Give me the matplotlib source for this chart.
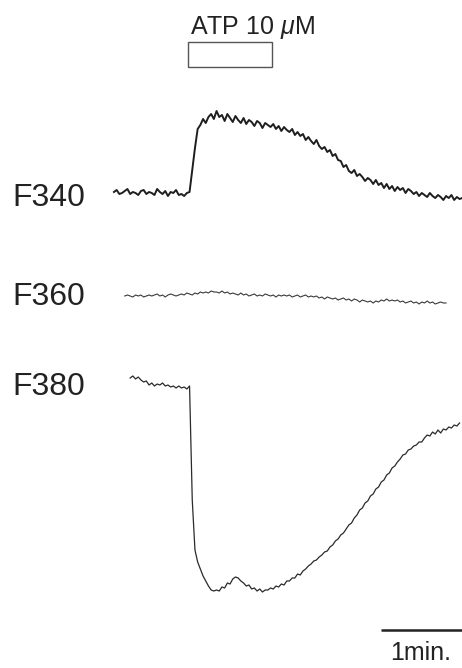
import numpy as np
import matplotlib
matplotlib.use("Agg")
import matplotlib.pyplot as plt
from matplotlib.patches import Rectangle

plt.rcParams['font.family'] = ['Liberation Sans', 'DejaVu Sans']
plt.rcParams['mathtext.fontset'] = 'custom'
plt.rcParams['mathtext.rm'] = 'Liberation Sans'
plt.rcParams['mathtext.it'] = 'Liberation Sans:italic'

# ---- data: fluorescence traces (a.u., relative to each trace's baseline), sampled every 2 s
dt = 2.0
f340_t0 = 0.0
f340 = [1, 3, -1, 0, 2, 4, -1, 1, 0, -2,
        2, 3, -1, 1, 0, -2, 4, 1, -1, 2,
        -3, 1, 0, 3, -2, -1, -3, 0, 1, 23,
        45, 64, 68, 74, 70, 76, 79, 74, 82, 76,
        78, 72, 79, 75, 71, 77, 73, 70, 75, 69,
        73, 71, 67, 72, 70, 65, 70, 68, 66, 69,
        64, 67, 62, 66, 63, 61, 64, 58, 61, 57,
        59, 53, 56, 52, 49, 53, 47, 44, 46, 41,
        43, 37, 39, 33, 32, 26, 28, 22, 20, 23,
        17, 19, 16, 12, 15, 13, 9, 13, 8, 10,
        5, 9, 4, 7, 2, 6, 3, 5, 0, 4,
        2, -1, 1, -3, 0, -2, -4, 0, -3, -5,
        -2, -4, -7, -3, -5, -2, -7, -4, -6, -5]

f360_t0 = 8.0
f360 = [0, 1, 0, -1, 1, 0, 1, -1, 0, 1,
        0, 1, 2, 0, 1, -1, 1, 2, 1, 0,
        1, 2, 1, 3, 2, 1, 3, 2, 4, 3,
        4, 3, 5, 4, 4, 3, 5, 3, 4, 2,
        3, 2, 1, 3, 1, 2, 0, 1, 2, 0,
        1, 0, 2, 1, 0, 1, -1, 1, 0, 1,
        0, 1, -1, 0, 1, -1, 0, 1, -1, 0,
        -1, 0, -2, -1, -3, -1, -2, -3, -2, -4,
        -3, -2, -4, -3, -5, -3, -4, -6, -4, -5,
        -6, -5, -7, -5, -6, -4, -5, -3, -5, -4,
        -5, -4, -6, -5, -7, -6, -5, -7, -6, -8,
        -6, -7, -5, -7, -6, -8, -7, -6, -7, -7]

f380_t0 = 12.0
f380 = [0, 2, -1, 1, -2, -4, -3, -7, -5, -8,
        -6, -7, -5, -8, -7, -9, -8, -10, -8, -10,
        -9, -11, -8, -122, -172, -184, -191, -198, -203, -208,
        -212, -213, -212, -213, -209, -210, -205, -206, -201, -199,
        -200, -203, -205, -208, -207, -211, -210, -213, -211, -214,
        -212, -212, -210, -211, -208, -209, -206, -207, -203, -203,
        -200, -200, -196, -197, -193, -191, -188, -186, -183, -182,
        -179, -177, -174, -173, -169, -167, -163, -161, -157, -155,
        -151, -147, -145, -140, -137, -132, -130, -125, -123, -118,
        -116, -111, -109, -104, -102, -97, -95, -90, -88, -84,
        -81, -77, -76, -72, -71, -68, -67, -64, -64, -60,
        -57, -58, -54, -56, -52, -55, -51, -52, -49, -50,
        -47, -48, -45]

trace_labels = ["F340", "F360", "F380"]
atp_start, atp_end = 55.0, 117.0     # s
atp_label = r"ATP 10 $\mu$M"
scale_start, scale_len = 198.0, 60.0  # s
scale_label = "1min."

# ---- layout (display offsets in a.u.)
offsets = {"F340": 475, "F360": 372, "F380": 290}
label_y = {"F340": 470, "F360": 371, "F380": 281}

fig = plt.figure(figsize=(4.62, 6.68), dpi=100)
fig.patch.set_facecolor('white')
ax = fig.add_axes([0, 0, 1, 1])
ax.set_xlim(-84.4, 257.8)
ax.set_ylim(0, 668)
ax.axis('off')

def tvec(t0, n):
    return t0 + dt * np.arange(n)

ax.plot(tvec(f340_t0, len(f340)), offsets["F340"] + np.array(f340),
        color='#1e1e1e', lw=1.4)
ax.plot(tvec(f360_t0, len(f360)), offsets["F360"] + np.array(f360),
        color='#3a3a3a', lw=0.8)
ax.plot(tvec(f380_t0, len(f380)), offsets["F380"] + np.array(f380),
        color='#2a2a2a', lw=0.9)

for name in trace_labels:
    ax.text(-75.5, label_y[name], name, fontsize=23, color='#222222',
            ha='left', va='center')

# ATP bar
ax.add_patch(Rectangle((atp_start, 601), atp_end - atp_start, 25,
                       fill=False, edgecolor='#555555', lw=1.0))
ax.text(atp_start + 1.2, 634, atp_label, fontsize=18,
        color='#222222', ha='left', va='baseline')

# scale bar
ax.plot([scale_start, scale_start + scale_len], [38, 38], color='#222222',
        lw=1.8, solid_capstyle='butt')
ax.text(scale_start + scale_len / 2 - 1.0, 8, scale_label, fontsize=18,
        color='#222222', ha='center', va='baseline')

fig.savefig("out.png", dpi=100, facecolor='white')
